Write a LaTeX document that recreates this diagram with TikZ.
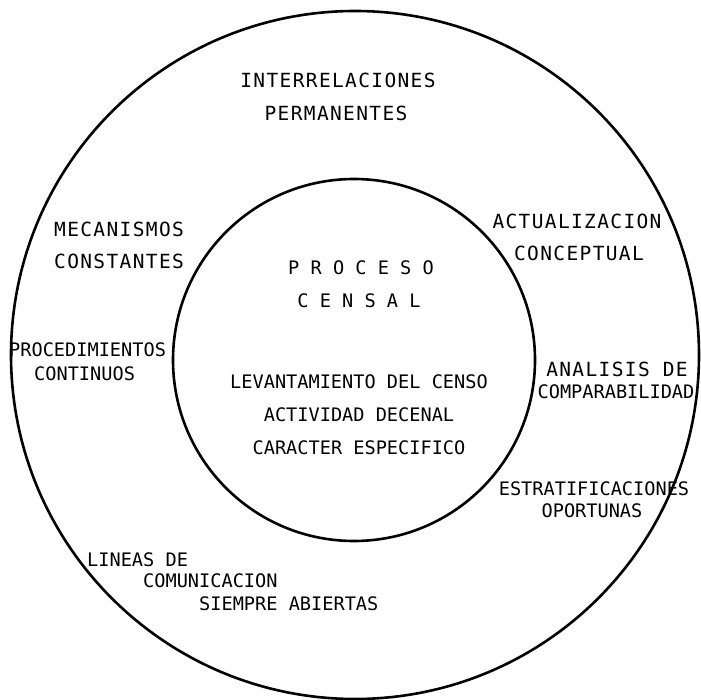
\documentclass[tikz,border=0pt]{standalone}
\usepackage{fontspec}
\newfontfamily\censofont{DejaVu Sans Mono}
\newfontfamily\censowide[LetterSpace=7]{DejaVu Sans Mono}

\begin{document}
\begin{tikzpicture}[x=1pt,y=-1pt]
    \tikzstyle{ring} = [draw, shape=circle, line width=2.6pt, inner sep=0pt];
    \tikzstyle{lbl} = [inner sep=0pt, text height=13.6pt, text depth=0pt, font=\censofont\fontsize{18.6}{22}\selectfont];
    \tikzstyle{wide} = [lbl, text height=14.2pt, font=\censowide\fontsize{19.5}{23}\selectfont];

    \useasboundingbox (0,0) rectangle (701,700);

    % Circles
    \node [ring, minimum size=688pt] (outer) at (355,355) {};
    \node [ring, minimum size=362pt] (inner) at (354,360) {};

    % Outer ring
    \node [wide] (interrel) at (338,80) {INTERRELACIONES};
    \node [wide] (permanentes) at (336,113) {PERMANENTES};
    \node [wide, anchor=west] (mecanismos) at (54,229) {MECANISMOS};
    \node [wide, anchor=west] (constantes) at (54,261) {CONSTANTES};
    \node [wide] (actualiz) at (577,221) {ACTUALIZACION};
    \node [wide] (conceptual) at (579,253) {CONCEPTUAL};
    \node [lbl, anchor=west] (procedim) at (9,350) {PROCEDIMIENTOS};
    \node [lbl, anchor=west] (continuos) at (34,374) {CONTINUOS};
    \node [wide] (analisis) at (617,369) {ANALISIS DE};
    \node [lbl] (comparab) at (616,392) {COMPARABILIDAD};
    \node [lbl] (estratif) at (594,489) {ESTRATIFICACIONES};
    \node [lbl] (oportunas) at (592,511) {OPORTUNAS};
    \node [lbl, anchor=west] (lineas) at (87,560) {LINEAS DE};
    \node [lbl, anchor=west] (comunic) at (143,581) {COMUNICACION};
    \node [lbl, anchor=west] (siempre) at (199,604) {SIEMPRE ABIERTAS};

    % Inner circle
    \node [lbl] (proceso) at (361,268) {P R O C E S O};
    \node [lbl] (censal) at (359,301) {C E N S A L};
    \node [lbl] (levantam) at (359,382) {LEVANTAMIENTO DEL CENSO};
    \node [lbl] (actividad) at (359,415) {ACTIVIDAD DECENAL};
    \node [lbl] (caracter) at (359,448) {CARACTER ESPECIFICO};
\end{tikzpicture}
\end{document}
